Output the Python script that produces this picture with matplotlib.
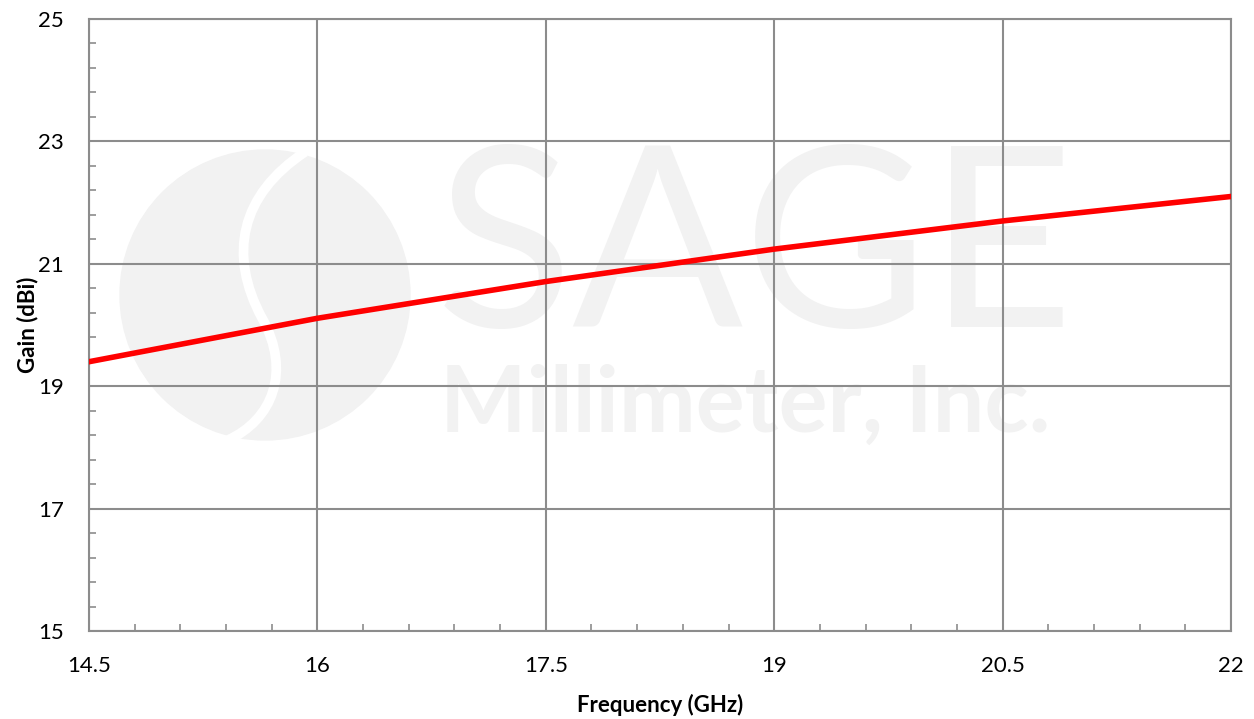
import numpy as np
import matplotlib.pyplot as plt
from matplotlib.ticker import FixedLocator
from matplotlib.patches import Circle, PathPatch
from matplotlib.path import Path
from matplotlib.transforms import Affine2D

plt.rcParams['font.family'] = ['Lato', 'DejaVu Sans']

# 読み取った値
freq = [14.5, 16.0, 17.5, 19.0, 20.5, 22.0]
gain = [19.40, 20.11, 20.71, 21.24, 21.70, 22.10]

x_ticks = [14.5, 16, 17.5, 19, 20.5, 22]
x_tick_labels = ['14.5', '16', '17.5', '19', '20.5', '22']
y_ticks = [15, 17, 19, 21, 23, 25]

W, H = 1254, 719
fig = plt.figure(figsize=(W / 100, H / 100), dpi=100)
ax = fig.add_axes([89 / W, 1 - 631 / H, (1231 - 89) / W, (631 - 19) / H])

# ピクセル座標 (左上原点) の変換
px = Affine2D().scale(1 / W, -1 / H).translate(0, 1) + fig.transFigure

# ウォーターマーク
wm = '#f2f2f2'
ax.add_patch(Circle((265, 295), 145, transform=px, color=wm, zorder=0.1, clip_on=False))
s_path = Path([(305, 152), (240, 195), (228, 255), (262, 318),
               (292, 372), (272, 420), (228, 440)],
              [Path.MOVETO, Path.CURVE4, Path.CURVE4, Path.CURVE4,
               Path.CURVE4, Path.CURVE4, Path.CURVE4])
ax.add_patch(PathPatch(s_path, transform=px, fill=False, edgecolor='white',
                       lw=7, zorder=0.15, clip_on=False))
ax.text(436, 327, 'SAGE', transform=px, fontsize=182,
        color=wm, zorder=0.2, va='baseline', ha='left')
ax.text(440, 432, 'Millimeter, Inc.', transform=px, fontsize=66,
        fontweight='bold', color=wm, zorder=0.2, va='baseline', ha='left')

ax.plot(freq, gain, color='#ff0000', linewidth=4, zorder=3)

ax.set_xlim(14.5, 22)
ax.set_ylim(15, 25)
ax.set_xticks(x_ticks)
ax.set_xticklabels(x_tick_labels)
ax.set_yticks(y_ticks)
ax.xaxis.set_minor_locator(FixedLocator(np.arange(14.5, 22.01, 0.3)))
ax.yaxis.set_minor_locator(FixedLocator(np.arange(15, 25.01, 0.4)))

ax.set_axisbelow(True)
ax.grid(True, which='major', color='#8c8c8c', linewidth=1.5)
for sp in ax.spines.values():
    sp.set_color('#8c8c8c')
    sp.set_linewidth(1.5)

ax.tick_params(which='major', length=0, pad=18, labelsize=16, labelcolor='black')
ax.tick_params(which='minor', direction='in', length=5, width=1.2, color='#8c8c8c')

ax.set_xlabel('Frequency (GHz)', fontsize=16, fontweight='bold')
ax.set_ylabel('Gain (dBi)', fontsize=16, fontweight='bold')
ax.xaxis.set_label_coords(0.5, -(694 - 631) / (631 - 19), transform=ax.transAxes)
ax.yaxis.set_label_coords(-(89 - 38) / (1231 - 89), 0.5, transform=ax.transAxes)

fig.savefig('out.png', dpi=100)
